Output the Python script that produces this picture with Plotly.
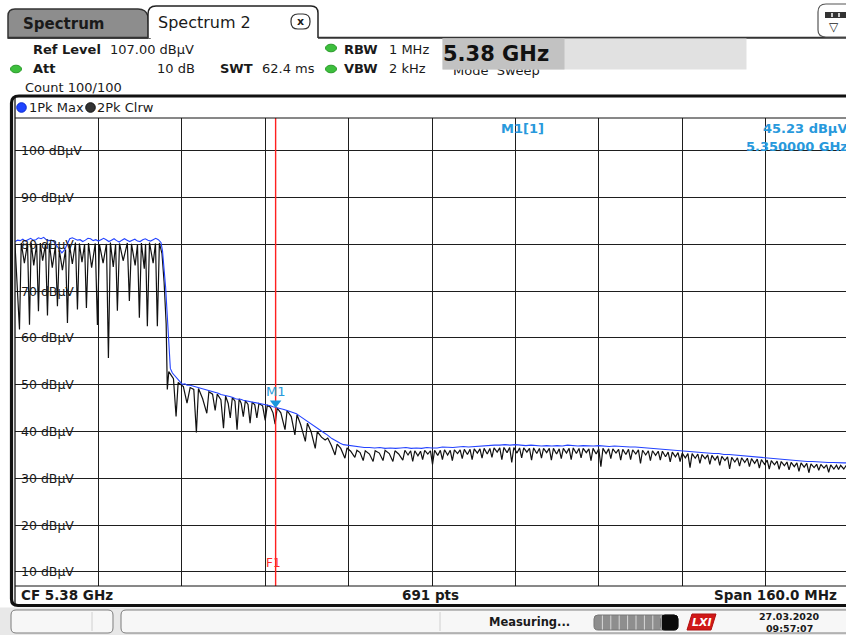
import plotly.graph_objects as go

# ---------------- data ----------------
F_START_GHZ = 5.30
SPAN_MHZ = 160.0
F1_GHZ = 5.35
M1_GHZ = 5.35
M1_DBUV = 45.23
Y_MIN_DBUV = 7.0
Y_MAX_DBUV = 107.0

y_grid_dbuv = [10, 20, 30, 40, 50, 60, 70, 80, 90, 100]
y_grid_labels = ["10 dBµV", "20 dBµV", "30 dBµV", "40 dBµV", "50 dBµV",
                 "60 dBµV", "70 dBµV", "80 dBµV", "90 dBµV", "100 dBµV"]
x_grid_mhz = [16, 32, 48, 64, 80, 96, 112, 128, 144]

# Trace 1: 1Pk Max (blue)
pk_max_mhz = [
    0.0, 0.5, 1.0, 1.5, 2.0, 2.5, 3.0, 3.5, 4.0, 4.5, 5.0, 5.5, 6.0, 6.5, 7.0, 7.5,
    8.0, 8.5, 9.0, 9.5, 10.0, 10.5, 11.0, 11.5, 12.0, 12.5, 13.0, 13.5, 14.0, 14.5,
    15.0, 15.5, 16.0, 16.5, 17.0, 17.5, 18.0, 18.5, 19.0, 19.5, 20.0, 20.5, 21.0,
    21.5, 22.0, 22.5, 23.0, 23.5, 24.0, 24.5, 25.0, 25.5, 26.0, 26.5, 27.0, 27.5,
    28.0, 28.3, 28.6, 28.9, 29.2, 29.5, 29.8, 30.2, 30.8, 31.5, 32.1, 32.6, 33.0,
    33.6, 34.2, 34.8, 35.5, 36.0, 36.5, 37.0, 37.5, 38.0, 38.5, 39.0, 39.5, 40.1,
    40.7, 41.2, 41.8, 42.3, 42.8, 43.3, 43.8, 44.3, 44.8, 45.4, 46.0, 46.5, 47.0,
    47.5, 48.0, 48.5, 49.0, 49.5, 49.9, 50.5, 51.0, 51.6, 52.2, 52.8, 53.4, 54.0,
    54.5, 55.0, 55.5, 56.0, 56.6, 57.0, 57.5, 58.0, 58.5, 59.2, 59.9, 60.3, 60.8,
    61.3, 61.8, 62.4, 63.0, 63.6, 64.3, 64.9, 65.5, 66.2, 67.0, 68.0, 69.0, 70.0,
    71.0, 72.0, 73.0, 74.0, 75.0, 76.0, 77.0, 78.0, 79.0, 80.0, 81.0, 82.0, 83.0,
    84.0, 85.0, 86.0, 87.0, 88.0, 89.0, 90.0, 91.0, 92.0, 93.0, 94.0, 95.0, 96.0,
    97.0, 98.0, 99.0, 100.0, 101.0, 102.0, 103.0, 104.0, 105.0, 106.0, 107.0, 108.0,
    109.0, 110.0, 111.0, 112.0, 113.0, 114.0, 115.0, 116.0, 117.0, 118.0, 119.0,
    120.0, 121.0, 122.0, 123.0, 124.0, 125.0, 126.0, 127.0, 128.0, 129.0, 130.0,
    131.0, 132.0, 133.0, 134.0, 135.0, 136.0, 137.0, 138.0, 139.0, 140.0, 141.0,
    142.0, 143.0, 144.0, 145.0, 146.0, 147.0, 148.0, 149.0, 150.0, 151.0, 152.0,
    153.0, 154.0, 155.0, 156.0, 157.0, 158.0, 159.0, 160.0]
pk_max_dbuv = [
    80.6, 80.9, 80.8, 81.1, 80.7, 81.0, 81.3, 80.9, 81.0, 81.4, 81.2, 81.5, 81.0, 80.8, 80.9, 80.5,
    79.8, 79.0, 78.2, 78.8, 80.2, 81.2, 81.4, 81.2, 80.9, 81.0, 80.6, 80.9, 81.3, 81.2,
    80.8, 81.0, 80.7, 81.0, 81.3, 81.0, 80.6, 80.9, 81.2, 80.8, 80.5, 80.9, 81.2,
    80.9, 80.6, 80.9, 81.1, 80.7, 80.6, 81.0, 81.2, 80.9, 80.7, 81.0, 81.3, 81.0,
    80.4, 78.6, 75.0, 70.8, 65.0, 57.5, 53.5, 52.5, 51.8, 51.0, 50.1, 50.2, 49.9,
    49.9, 49.7, 49.6, 49.3, 49.2, 48.9, 48.9, 48.6, 48.5, 48.3, 48.2, 47.9, 47.8,
    47.6, 47.5, 47.3, 47.0, 46.9, 46.9, 46.7, 46.6, 46.5, 46.3, 46.2, 46.1, 46.0,
    45.8, 45.7, 45.6, 45.5, 45.3, 45.2, 45.1, 44.9, 44.7, 44.5, 44.3, 44.0, 43.8,
    43.4, 43.0, 42.6, 42.3, 41.8, 41.4, 41.0, 40.6, 40.2, 39.8, 39.3, 38.9, 38.5,
    38.2, 37.8, 37.5, 37.2, 37.1, 36.9, 36.8, 36.7, 36.7, 36.6, 36.6, 36.5, 36.6,
    36.4, 36.5, 36.4, 36.5, 36.6, 36.4, 36.5, 36.4, 36.6, 36.5, 36.5, 36.7, 36.6,
    36.6, 36.7, 36.8, 36.7, 36.8, 36.9, 36.9, 37.0, 37.1, 37.1, 37.2, 37.1, 37.2,
    37.1, 37.0, 37.1, 37.0, 36.9, 37.0, 36.9, 37.0, 36.9, 37.1, 37.0, 36.9,
    37.0, 36.9, 36.9, 37.0, 36.9, 36.8, 36.9, 36.8, 36.8, 36.7, 36.7,
    36.6, 36.5, 36.4, 36.3, 36.3, 36.1, 36.1, 35.9, 35.9, 35.8, 35.7,
    35.6, 35.5, 35.4, 35.3, 35.3, 35.1, 35.1, 35.0, 34.9, 34.8, 34.7,
    34.6, 34.5, 34.3, 34.3, 34.1, 34.0, 33.9, 33.9, 33.8, 33.7, 33.6,
    33.6, 33.5, 33.5, 33.4, 33.4, 33.3, 33.3, 33.3]

# Trace 2: 2Pk Clrw (black)
pk_clrw_mhz = [
    0.00, 0.86, 1.20, 1.80, 2.40, 2.78, 3.10, 3.60, 4.15, 4.50, 4.85, 5.30, 5.85, 6.23,
    6.60, 7.15, 7.75, 8.14, 8.50, 9.10, 9.70, 10.06, 10.45, 11.00, 11.60, 11.98, 12.35,
    12.85, 13.35, 13.70, 14.10, 14.70, 15.40, 15.81, 16.20, 16.90, 17.55, 17.92, 18.30,
    18.85, 19.30, 19.64, 20.05, 20.75, 21.55, 21.94, 22.35, 23.05, 23.50, 23.86, 24.25,
    24.80, 25.05, 25.39, 25.80, 26.50, 26.95, 27.31, 27.70, 28.20, 28.60, 29.00, 29.22,
    29.50, 30.40, 30.90, 31.30, 32.30, 33.00, 33.60, 34.30, 34.80, 35.20, 36.00, 36.80,
    37.20, 37.90, 38.40, 38.80, 39.50, 40.00, 40.40, 40.90, 41.30, 41.70, 42.20, 42.60,
    43.00, 43.40, 43.80, 44.20, 44.70, 45.10, 45.50, 46.00, 46.40, 46.80, 47.50, 48.00,
    48.40, 49.00, 49.50, 49.90, 50.30, 51.00, 51.80, 52.20, 53.00, 53.70, 54.10, 54.80,
    55.70, 56.10, 56.80, 57.60, 58.00, 58.80, 59.50, 60.00, 60.70, 61.40, 61.80, 62.50,
    63.30, 63.70, 64.40, 65.20, 65.60, 66.20, 66.80, 67.20, 68.00, 68.70, 69.10, 69.90,
    70.60, 71.00, 71.80, 72.50, 72.90, 73.60,
    74.4, 74.8, 75.4, 75.9, 76.3, 76.7, 77.3, 77.8, 78.2, 78.6, 79.2, 79.7,
    80.1, 80.5, 81.1, 81.6, 82.0, 82.4, 83.0, 83.5, 83.9, 84.3, 84.9, 85.4,
    85.8, 86.2, 86.8, 87.3, 87.7, 88.1, 88.7, 89.2, 89.6, 90.0, 90.6, 91.1,
    91.5, 91.9, 92.5, 93.0, 93.4, 93.8, 94.4, 94.9, 95.3, 95.7, 96.3, 96.8,
    97.2, 97.6, 98.2, 98.7, 99.1, 99.5, 100.1, 100.6, 101.0, 101.4, 102.0, 102.5,
    102.9, 103.3, 103.9, 104.4, 104.8, 105.2, 105.8, 106.3, 106.7, 107.1, 107.7, 108.2,
    108.6, 109.0, 109.6, 110.1, 110.5, 110.9, 111.5, 112.0, 112.4, 112.8, 113.4, 113.9,
    114.3, 114.7, 115.3, 115.8, 116.2, 116.6, 117.2, 117.7, 118.1, 118.5, 119.1, 119.6,
    120.0, 120.4, 121.0, 121.5, 121.9, 122.3, 122.9, 123.4, 123.8, 124.2, 124.8, 125.3,
    125.7, 126.1, 126.7, 127.2, 127.6, 128.0, 128.6, 129.1, 129.5, 129.9, 130.5, 131.0,
    131.4, 131.8, 132.4, 132.9, 133.3, 133.7, 134.3, 134.8, 135.2, 135.6, 136.2, 136.7,
    137.1, 137.5, 138.1, 138.6, 139.0, 139.4, 140.0, 140.5, 140.9, 141.3, 141.9, 142.4,
    142.8, 143.2, 143.8, 144.3, 144.7, 145.1, 145.7, 146.2, 146.6, 147.0, 147.6, 148.1,
    148.5, 148.9, 149.5, 150.0, 150.4, 150.8, 151.4, 151.9, 152.3, 152.7, 153.3, 153.8,
    154.2, 154.6, 155.2, 155.7, 156.1, 156.5, 157.1, 157.6, 158.0, 158.4, 159.0, 159.5,
    160.0]
pk_clrw_dbuv = [
    80.0, 61.8, 80.3, 76.0, 80.2, 62.8, 80.4, 75.5, 80.1, 65.7, 80.3, 76.5, 80.0, 64.8,
    80.2, 75.0, 79.6, 66.8, 78.8, 74.5, 78.9, 63.2, 80.0, 75.8, 80.4, 66.1, 80.2,
    76.2, 80.0, 66.4, 80.3, 75.0, 80.2, 62.8, 80.0, 76.0, 80.1, 55.7, 80.4,
    75.2, 80.0, 65.8, 80.2, 76.5, 80.3, 67.9, 80.1, 75.5, 80.0, 64.3, 80.3,
    74.8, 80.1, 62.5, 80.4, 76.0, 80.2, 62.5, 80.3, 78.0, 72.0, 63.0, 49.0,
    52.8, 51.3, 43.2, 50.5, 49.6, 46.1, 49.4, 49.0, 39.8, 49.2, 47.0, 43.9,
    48.5, 48.0, 44.5, 48.0, 46.8, 40.7, 47.6, 46.0, 42.9, 47.3, 46.5, 40.4,
    47.0, 46.0, 43.2, 46.6, 45.8, 41.8, 46.3, 45.7, 42.9, 46.0, 45.5, 42.4,
    45.6, 45.2, 44.0, 41.6, 45.0, 44.0, 40.4, 44.5, 43.2, 39.3, 43.6, 41.5,
    37.9, 41.8, 40.0, 36.4, 40.0, 38.8, 38.2, 38.6, 37.0, 35.0, 37.3, 36.4,
    34.3, 36.5, 35.8, 34.5, 36.0, 35.5, 33.8, 35.9, 35.2, 33.6, 35.9, 35.4,
    33.8, 36.0, 35.3, 33.6, 35.9, 35.2,
    33.9, 36.0, 35.0, 35.9, 33.6, 35.9, 34.8, 35.8, 34.0, 36.0, 35.2, 35.9,
    33.0, 36.0, 34.9, 36.0, 34.0, 36.1, 35.0, 36.0, 33.8, 36.1, 35.3, 36.1,
    34.2, 36.2, 35.1, 36.2, 34.0, 36.3, 35.4, 36.3, 34.3, 36.4, 35.2, 36.4,
    34.5, 36.5, 35.6, 36.5, 34.0, 36.6, 35.5, 36.6, 33.4, 36.6, 35.4, 36.5,
    34.4, 36.5, 35.6, 36.4, 33.9, 36.5, 35.3, 36.4, 34.3, 36.4, 35.5, 36.4,
    33.9, 36.4, 35.2, 36.3, 34.2, 36.4, 35.4, 36.4, 34.0, 36.5, 35.3, 36.4,
    34.4, 36.4, 35.5, 36.3, 33.8, 36.4, 35.2, 36.3, 32.5, 36.4, 35.3, 36.3,
    34.2, 36.3, 35.4, 36.2, 33.9, 36.2, 35.1, 36.2, 34.0, 36.1, 35.2, 36.1,
    33.2, 36.0, 35.0, 35.9, 33.8, 35.9, 34.9, 35.8, 33.9, 35.8, 34.6, 35.6,
    33.5, 35.6, 34.6, 35.5, 33.6, 35.4, 34.4, 35.3, 32.3, 35.3, 34.3, 35.2,
    33.2, 35.1, 34.2, 35.0, 33.0, 34.9, 33.9, 34.8, 32.8, 34.7, 33.8, 34.6,
    32.0, 34.5, 33.5, 34.4, 32.6, 34.4, 33.4, 34.3, 32.5, 34.2, 33.2, 34.1,
    32.2, 34.0, 33.0, 33.9, 32.0, 33.8, 32.9, 33.7, 31.9, 33.6, 32.7, 33.5,
    31.8, 33.4, 32.5, 33.3, 31.5, 33.3, 32.4, 33.2, 31.2, 33.1, 32.3, 33.0,
    31.7, 33.0, 32.2, 32.9, 31.3, 32.9, 32.0, 32.8, 31.9, 32.8, 32.0, 32.8,
    32.7]

# ---------------- geometry of the screenshot (pixels) ----------------
W, H = 846, 635
L, T, B = 15, 118, 586          # graticule left / top / bottom
PW, PH = W - L, B - T
FULL_GRAT_PX = 834              # 10 divisions; the right 3 px are cut off

def gx(m):
    return F_START_GHZ + m / 1000.0

def px(x):
    return (x - L) / PW

def py(y):
    return (B - y) / PH

FONT = "DejaVu Sans"
BLUE_TXT = "#2899dc"

fig = go.Figure()

fig.add_trace(go.Scatter(x=[gx(m) for m in pk_clrw_mhz], y=pk_clrw_dbuv, mode="lines",
                         line=dict(color="#111111", width=1.2), hoverinfo="skip"))
fig.add_trace(go.Scatter(x=[gx(m) for m in pk_max_mhz], y=pk_max_dbuv, mode="lines",
                         line=dict(color="#2443ff", width=1.1), hoverinfo="skip"))
fig.add_trace(go.Scatter(x=[F1_GHZ, F1_GHZ], y=[Y_MIN_DBUV, Y_MAX_DBUV], mode="lines",
                         line=dict(color="#ff1f1f", width=1.4), hoverinfo="skip"))
fig.add_trace(go.Scatter(x=[M1_GHZ], y=[M1_DBUV + 0.85], mode="markers",
                         marker=dict(symbol="triangle-down", size=10, color="#1a96dc",
                                     line=dict(width=0)), hoverinfo="skip"))

shapes = []
ann = []

def rect(x0, y0, x1, y1, fill, line=None, lw=0, layer="above"):
    shapes.append(dict(type="rect", xref="paper", yref="paper", x0=px(x0), x1=px(x1),
                       y0=py(y0), y1=py(y1), fillcolor=fill, layer=layer,
                       line=dict(color=line or fill, width=lw)))

def hline(x0, x1, y, color="#111", w=1):
    shapes.append(dict(type="line", xref="paper", yref="paper", x0=px(x0), x1=px(x1),
                       y0=py(y), y1=py(y), line=dict(color=color, width=w), layer="above"))

def vline(x, y0, y1, color="#111", w=1):
    shapes.append(dict(type="line", xref="paper", yref="paper", x0=px(x), x1=px(x),
                       y0=py(y0), y1=py(y1), line=dict(color=color, width=w), layer="above"))

def P(x, y):
    return f"{px(x):.5f},{py(y):.5f}"

def path(d, fill, line="#222", lw=1):
    shapes.append(dict(type="path", xref="paper", yref="paper", path=d, fillcolor=fill,
                       line=dict(color=line, width=lw), layer="above"))

def rrect(x0, y0, x1, y1, r, fill, line, lw=1):
    d = (f"M{P(x0 + r, y0)} L{P(x1 - r, y0)} Q{P(x1, y0)} {P(x1, y0 + r)} "
         f"L{P(x1, y1 - r)} Q{P(x1, y1)} {P(x1 - r, y1)} L{P(x0 + r, y1)} "
         f"Q{P(x0, y1)} {P(x0, y1 - r)} L{P(x0, y0 + r)} Q{P(x0, y0)} {P(x0 + r, y0)} Z")
    path(d, fill, line, lw)

def dot(cx, cy, color, rx=5.5, ry=3.8, line=None):
    shapes.append(dict(type="circle", xref="paper", yref="paper", x0=px(cx - rx), x1=px(cx + rx),
                       y0=py(cy - ry), y1=py(cy + ry), fillcolor=color, layer="above",
                       line=dict(color=line or color, width=1)))

def text(x, y, s, size=13, color="#1a1a1a", xanchor="left", yanchor="middle", bold=False, **kw):
    ann.append(dict(x=px(x), y=py(y), xref="paper", yref="paper",
                    text=f"<b>{s}</b>" if bold else s, showarrow=False,
                    xanchor=xanchor, yanchor=yanchor, borderpad=0,
                    font=dict(family=FONT, size=size, color=color), **kw))

# --- masks over the grid (drawn under the traces) ---
for v, lab in zip(y_grid_dbuv, y_grid_labels):
    end = 82 if v == 100 else 73
    shapes.append(dict(type="rect", xref="paper", yref="y", x0=0, x1=px(end),
                       y0=v - 0.5, y1=v + 0.5, fillcolor="white", layer="between",
                       line=dict(width=0)))
shapes.append(dict(type="rect", xref="paper", yref="paper", x0=px(499), x1=1.01,
                   y0=py(155), y1=1.0, fillcolor="white", layer="between", line=dict(width=0)))

# --- top tab bar ---
path(f"M{P(8, 38)} L{P(8, 16)} Q{P(8, 9)} {P(15, 9)} L{P(138, 9)} Q{P(146, 9)} {P(148, 16)} "
     f"L{P(150, 38)} Z", "#8d8d8d", "#333", 1.5)
path(f"M{P(148, 38)} L{P(148, 14)} Q{P(148, 6)} {P(156, 6)} L{P(311, 6)} Q{P(318, 6)} {P(318, 13)} "
     f"L{P(318, 38)}", "white", "#222", 1.5)
hline(8, 148, 37.8, "#333", 2)
hline(318, 846, 37.8, "#333", 2)
rrect(291, 14, 310, 29, 7, "white", "#333", 1.2)
text(300.5, 21, "x", size=11, bold=True, xanchor="center")
text(22, 23.5, "Spectrum", size=15, bold=True)
text(157, 22.5, "Spectrum 2", size=16)
path(f"M{P(850, 4)} L{P(826, 4)} Q{P(818, 4)} {P(818, 12)} L{P(818, 30)} Q{P(818, 37)} {P(826, 37)} "
     f"L{P(850, 37)}", "white", "#555", 1.2)
rect(825, 12, 847, 18, "#333")
for xs in (832, 839):
    vline(xs, 13, 17, "white", 1.5)
text(834, 27, "▽", size=12, xanchor="center")

# --- header information ---
text(32, 49, "Ref Level", bold=True)
text(109, 49, "107.00 dBµV")
dot(331, 48, "#3dbf3d", line="#2a9a2a")
text(343, 49, "RBW", bold=True)
text(388, 49, "1 MHz")
dot(16, 69, "#3dbf3d", line="#2a9a2a")
text(32, 69, "Att", bold=True)
text(196, 69, "10 dB", xanchor="right")
text(219, 69, "SWT", bold=True)
text(261, 69, "62.4 ms")
dot(331, 69, "#3dbf3d", line="#2a9a2a")
text(343, 69, "VBW", bold=True)
text(388, 69, "2 kHz")
text(24, 87.5, "Count 100/100")
text(452, 71, "Mode  Sweep")
ann.append(dict(x=px(442), y=py(38), xref="paper", yref="paper", text=" ", showarrow=False,
                xanchor="left", yanchor="top", width=303, height=30, borderpad=0,
                bgcolor="#e1e1e1"))
ann.append(dict(x=px(442), y=py(38), xref="paper", yref="paper", text="<b>5.38 GHz</b>",
                showarrow=False, xanchor="left", yanchor="top", width=121, height=30,
                borderpad=0, bgcolor="#c2c2c2", align="left", valign="middle",
                font=dict(family=FONT, size=21, color="#111")))

# --- diagram frame ---
path(f"M{P(850, 96)} L{P(19, 96)} Q{P(11.5, 96)} {P(11.5, 103)} L{P(11.5, 599)} "
     f"Q{P(11.5, 605.5)} {P(18, 605.5)} L{P(850, 605.5)}", "rgba(0,0,0,0)", "#111", 3.2)
vline(15, 97, 604, "#111", 1.3)
hline(15, 846, 118, "#111", 1)
hline(15, 846, 586, "#111", 1)

# legend row
dot(21.5, 107.5, "#1f44ff", rx=4.8, ry=4.8, line="#0a2ad0")
text(28, 107.5, "1Pk Max", size=13)
dot(90.5, 107.5, "#333333", rx=4.8, ry=4.8, line="#111")
text(96, 107.5, "2Pk Clrw", size=13)

# y labels inside the graticule
for v, lab in zip(y_grid_dbuv, y_grid_labels):
    ann.append(dict(x=px(20), y=v, xref="paper", yref="y", text=lab, showarrow=False,
                    xanchor="left", yanchor="middle", borderpad=0,
                    font=dict(family=FONT, size=12.5, color="#1a1a1a")))

# marker info
text(500, 128, "M1[1]", size=13, color=BLUE_TXT, bold=True)
text(849, 128, "45.23 dBµV", size=13, color=BLUE_TXT, bold=True, xanchor="right")
text(849, 146.5, "5.350000 GHz", size=13, color=BLUE_TXT, bold=True, xanchor="right")
ann.append(dict(x=M1_GHZ, y=M1_DBUV, xref="x", yref="y", text="M1", showarrow=False,
                xanchor="center", yanchor="middle", yshift=16, borderpad=0,
                font=dict(family=FONT, size=13, color=BLUE_TXT)))
ann.append(dict(x=F1_GHZ, y=py(563), xref="x", yref="paper", text="F1", showarrow=False,
                xanchor="center", yanchor="middle", xshift=-2, borderpad=0,
                font=dict(family=FONT, size=12, color="#ff2a2a")))

# bottom info row
text(20, 595, "CF 5.38 GHz", size=13.5, bold=True)
text(430, 595, "691 pts", size=13.5, bold=True, xanchor="center")
text(838, 595, "Span 160.0 MHz", size=13.5, bold=True, xanchor="right")

# --- status bar ---
rect(0, 607.5, 846, 635, "#e8e8e8")
rrect(11, 610, 113, 633, 5, "#f7f7f7", "#7d7d7d", 1)
vline(92, 612, 631, "#d0d0d0", 1)
rrect(121, 610, 860, 633, 5, "#f7f7f7", "#7d7d7d", 1)
vline(440, 612, 631, "#d0d0d0", 1)
text(529, 622, "Measuring...", size=11.5, bold=True, xanchor="center")
rrect(594, 615, 678, 630, 4, "#8e8e8e", "#777", 1)
rrect(661, 615, 678, 630, 4, "#0a0a0a", "#0a0a0a", 1)
for i in range(1, 9):
    vline(594 + i * 8.4, 615.5, 629.5, "#d8d8d8", 1)
path(f"M{P(692, 614)} L{P(716, 614)} L{P(711, 630)} L{P(687, 630)} Z", "#d01818", "#b01010", 1)
text(701.5, 622, "<i>LXI</i>", size=11, color="#ffffff", bold=True, xanchor="center")
text(789, 616, "27.03.2020", size=9.5, bold=True, xanchor="center")
text(789, 628, "09:57:07", size=9.5, bold=True, xanchor="center")

fig.update_layout(
    width=W, height=H, margin=dict(l=L, r=0, t=T, b=H - B, pad=0),
    paper_bgcolor="white", plot_bgcolor="white", showlegend=False,
    shapes=shapes, annotations=ann,
    xaxis=dict(range=[F_START_GHZ, F_START_GHZ + SPAN_MHZ / 1000.0 * PW / FULL_GRAT_PX],
               tickvals=[gx(m) for m in x_grid_mhz], showticklabels=False, ticks="",
               showgrid=True, gridcolor="#1e1e1e", gridwidth=1, zeroline=False,
               showline=False, fixedrange=True),
    yaxis=dict(range=[Y_MIN_DBUV, Y_MAX_DBUV], tickvals=y_grid_dbuv, showticklabels=False,
               ticks="", showgrid=True, gridcolor="#1e1e1e", gridwidth=1, zeroline=False,
               showline=False, fixedrange=True),
)

fig.write_html("out.html", config={"displayModeBar": False},
               post_script="document.body.style.margin='0';document.body.style.overflow='hidden';")
